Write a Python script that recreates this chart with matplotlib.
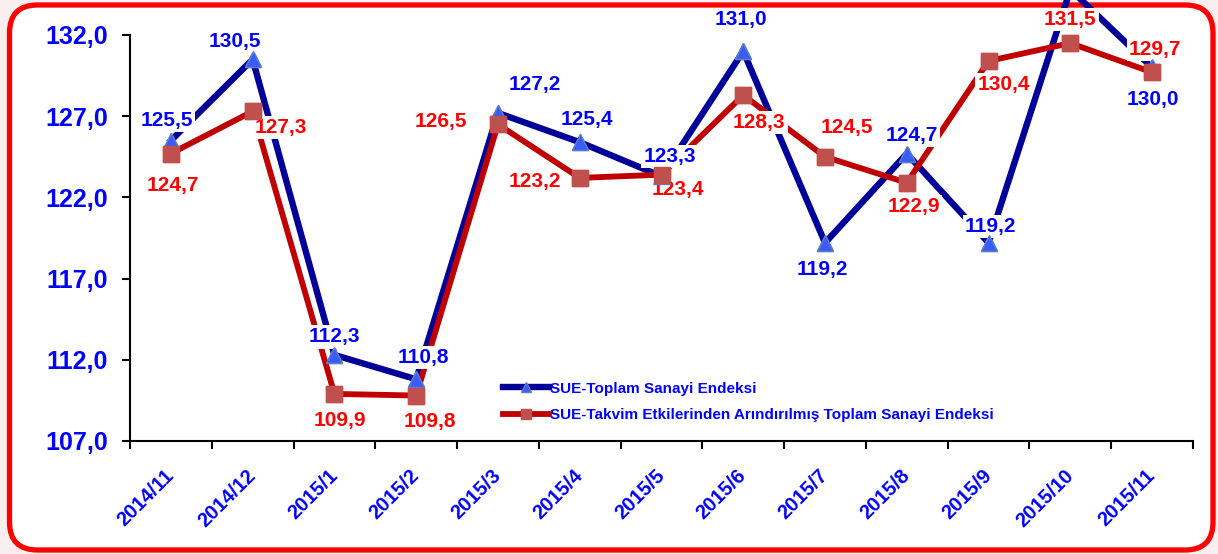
import matplotlib.pyplot as plt
from matplotlib.patches import FancyBboxPatch

plt.rcParams['font.family'] = ['Liberation Sans', 'DejaVu Sans']
plt.rcParams['font.weight'] = 'bold'

months = ['2014/11', '2014/12', '2015/1', '2015/2', '2015/3', '2015/4', '2015/5',
          '2015/6', '2015/7', '2015/8', '2015/9', '2015/10', '2015/11']
toplam = [125.5, 130.5, 112.3, 110.8, 127.2, 125.4, 123.3, 131.0, 119.2, 124.7, 119.2, 134.8, 130.0]
takvim = [124.7, 127.3, 109.9, 109.8, 126.5, 123.2, 123.4, 128.3, 124.5, 122.9, 130.4, 131.5, 129.7]
show_toplam_label = [True]*11 + [False, True]

# label offsets in pixels (dx, dy)
off_toplam = [(-4, 20), (-18, 18), (0, 18), (7, 22), (37, 28), (7, 23), (8, 20),
              (-2, 32), (-3, -27), (5, 18), (2, 16), (0, 0), (1, -32)]
off_takvim = [(2, -32), (28, -16), (5, -27), (14, -26), (-57, 3), (-45, -4), (16, -15),
              (16, -27), (22, 29), (7, -24), (15, -24), (0, 24), (3, 23)]

fig = plt.figure(figsize=(12.18, 5.54), dpi=100)
fig.patch.set_facecolor('#fbeeee')

bg = fig.add_axes([0, 0, 1, 1], zorder=-1)
bg.set_xlim(0, 1218)
bg.set_ylim(0, 554)
bg.axis('off')
bg.add_patch(FancyBboxPatch((9.5, 4), 1203.5, 545, boxstyle='round,pad=0,rounding_size=28',
                            facecolor='white', edgecolor='#ff0000', linewidth=3.8))

ax = fig.add_axes([130/1218, 113/554, 1063/1218, 406/554])
ax.patch.set_alpha(0)
x = list(range(len(months)))

ax.plot(x, toplam, color='#000099', lw=4.6, marker='^', ms=11, mfc='#3a5cff', mec='#5b7fc0',
        label='SUE-Toplam Sanayi Endeksi', clip_on=False, zorder=2)
ax.plot(x, takvim, color='#c00000', lw=4.2, marker='s', ms=12, mfc='#c0504d', mec='#c0504d',
        label='SUE-Takvim Etkilerinden Arındırılmış Toplam Sanayi Endeksi', clip_on=False, zorder=2)

box = dict(facecolor='white', edgecolor='none', pad=1.5)
for i in x:
    if show_toplam_label[i]:
        ax.annotate(f'{toplam[i]:.1f}'.replace('.', ','), (i, toplam[i]), xytext=off_toplam[i],
                    textcoords='offset pixels', ha='center', va='center', color='#0000ff',
                    fontsize=15, fontweight='bold', bbox=box, zorder=3, annotation_clip=False)
    ax.annotate(f'{takvim[i]:.1f}'.replace('.', ','), (i, takvim[i]), xytext=off_takvim[i],
                textcoords='offset pixels', ha='center', va='center', color='#ff0000',
                fontsize=15, fontweight='bold', bbox=box, zorder=3, annotation_clip=False)

# markers on top of the label boxes
ax.plot(x, toplam, ls='none', marker='^', ms=11, mfc='#3a5cff', mec='#5b7fc0', clip_on=False, zorder=4)
ax.plot(x, takvim, ls='none', marker='s', ms=12, mfc='#c0504d', mec='#c0504d', clip_on=False, zorder=5)

ax.set_xlim(-0.5, 12.5)
ax.set_ylim(107, 132)
yt = [107, 112, 117, 122, 127, 132]
ax.set_yticks(yt)
ax.set_yticklabels([f'{v:.1f}'.replace('.', ',') for v in yt],
                   color='#0000ff', fontsize=18, fontweight='bold')
ax.set_xticks([i - 0.5 for i in range(14)])
ax.set_xticklabels([])
ax.set_xticks(x, minor=True)
ax.set_xticklabels(months, minor=True, rotation=45, ha='right', va='center', rotation_mode='anchor',
                   color='#0000ff', fontsize=14.5, fontweight='bold')
ax.tick_params(axis='x', which='minor', length=0, pad=23)
ax.tick_params(axis='both', which='major', length=6, width=1.5, direction='out')
ax.tick_params(axis='y', pad=10)
for s in ['top', 'right']:
    ax.spines[s].set_visible(False)
for s in ['left', 'bottom']:
    ax.spines[s].set_linewidth(1.5)

leg = ax.legend(loc='upper left', bbox_to_anchor=(489/1218, 1 - 368/554), bbox_transform=fig.transFigure,
                frameon=False, handlelength=3.0, handletextpad=0.1, labelspacing=0.8, markerscale=0.6,
                prop={'size': 11, 'weight': 'bold'})
for t in leg.get_texts():
    t.set_color('#0000ff')

fig.savefig('out.png', dpi=100, facecolor=fig.get_facecolor())
